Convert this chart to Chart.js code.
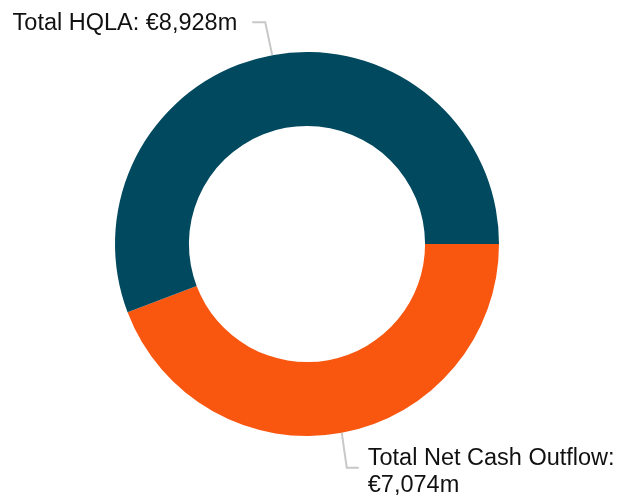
<!DOCTYPE html>
<html>
<head>
<meta charset="utf-8">
<script src="https://cdn.jsdelivr.net/npm/chart.js@4/dist/chart.umd.min.js"></script>
<style>
    html, body { margin: 0; padding: 0; background: #fff; }
    #wrap { width: 621px; height: 498px; position: relative; }
</style>
</head>
<body>
<div id="wrap"><canvas id="liquidityChart"></canvas></div>
<script>
// Liquidity coverage - doughnut
const categories = ['Total Net Cash Outflow', 'Total HQLA'];
const valuesEurM = [7074, 8928];
const labelLines = [
    ['Total Net Cash Outflow:', '€7,074m'],
    ['Total HQLA: €8,928m']
];
const sliceColors = ['#f9560f', '#01495f'];

// leader line + label placement for each slice (elbow offset from arc anchor)
const leaderStyle = [
    { elbow: [5, 35], run: 12, textGap: 9, align: 'left', lineHeight: 27, baselineOffset: -3 },
    { elbow: [-7, -33], run: -13, textGap: -15, align: 'right', lineHeight: 27, baselineOffset: 8 }
];

const leaderLabels = {
    id: 'leaderLabels',
    afterDraw: function(chart) {
        const ctx = chart.ctx;
        const meta = chart.getDatasetMeta(0);
        ctx.save();
        meta.data.forEach(function(arc, i) {
            const p = arc.getProps(['x', 'y', 'startAngle', 'endAngle', 'outerRadius'], true);
            const mid = (p.startAngle + p.endAngle) / 2;
            const ax = p.x + Math.cos(mid) * p.outerRadius;
            const ay = p.y + Math.sin(mid) * p.outerRadius;
            const s = leaderStyle[i];
            const ex = ax + s.elbow[0];
            const ey = ay + s.elbow[1];
            const tx = ex + s.run;

            ctx.strokeStyle = '#c8c8c8';
            ctx.lineWidth = 2;
            ctx.beginPath();
            ctx.moveTo(ax, ay);
            ctx.lineTo(ex, ey);
            ctx.lineTo(tx, ey);
            ctx.stroke();

            ctx.fillStyle = '#111';
            ctx.font = '23.5px "Liberation Sans", Arial, sans-serif';
            ctx.textAlign = s.align;
            ctx.textBaseline = 'alphabetic';
            labelLines[i].forEach(function(line, j) {
                ctx.fillText(line, tx + s.textGap, ey + s.baselineOffset + j * s.lineHeight);
            });
        });
        ctx.restore();
    }
};

new Chart(document.getElementById('liquidityChart').getContext('2d'), {
    type: 'doughnut',
    data: {
        labels: categories,
        datasets: [{
            data: valuesEurM,
            backgroundColor: sliceColors,
            borderWidth: 0
        }]
    },
    options: {
        responsive: true,
        maintainAspectRatio: false,
        animation: false,
        rotation: 90,
        cutout: '61.5%',
        layout: {
            padding: { top: 52, bottom: 62, left: 115, right: 122 }
        },
        plugins: {
            legend: { display: false },
            tooltip: { enabled: false }
        },
        events: []
    },
    plugins: [leaderLabels]
});
</script>
</body>
</html>
